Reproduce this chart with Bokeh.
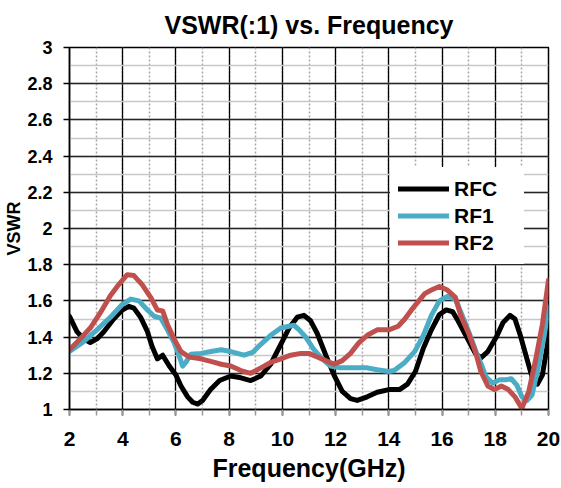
from bokeh.plotting import figure
from bokeh.models import (Legend, LegendItem, SingleIntervalTicker,
                          CustomJSTickFormatter, Range1d)
from bokeh.embed import file_html
from bokeh.resources import INLINE

# ---- data ----
rfc_freq = [2.0, 2.28, 2.53, 2.78, 3.03, 3.29, 3.66, 3.98, 4.23, 4.42, 4.67, 4.93,
            5.1, 5.3, 5.5, 5.75, 6.0, 6.19, 6.44, 6.63, 6.82, 7.0, 7.3, 7.64,
            8.06, 8.44, 8.81, 9.19, 9.56, 9.94, 10.25, 10.56, 10.81, 11.06, 11.31,
            11.63, 11.94, 12.25, 12.56, 12.81, 13.19, 13.56, 14.0, 14.4, 14.7,
            15.0, 15.3, 15.6, 15.9, 16.16, 16.4, 16.6, 17.0, 17.25, 17.46, 17.72,
            18.04, 18.29, 18.55, 18.74, 18.94, 19.19, 19.38, 19.58, 19.77, 19.96, 20.0]
rfc_vswr = [1.515, 1.43, 1.39, 1.37, 1.39, 1.43, 1.50, 1.55, 1.57, 1.56, 1.51, 1.43,
            1.35, 1.28, 1.30, 1.24, 1.19, 1.13, 1.07, 1.04, 1.03, 1.05, 1.11, 1.16,
            1.185, 1.175, 1.16, 1.185, 1.25, 1.36, 1.45, 1.51, 1.52, 1.49, 1.42,
            1.30, 1.19, 1.10, 1.06, 1.05, 1.07, 1.095, 1.11, 1.11, 1.14,
            1.21, 1.34, 1.44, 1.525, 1.55, 1.54, 1.49, 1.38, 1.31, 1.285, 1.32,
            1.40, 1.48, 1.52, 1.50, 1.41, 1.28, 1.18, 1.14, 1.19, 1.36, 1.45]

rf1_freq = [2.0, 2.53, 3.03, 3.54, 3.98, 4.3, 4.61, 4.93, 5.18, 5.43, 5.68, 5.93,
            6.1, 6.25, 6.37, 6.56, 6.94, 7.32, 7.7, 8.06, 8.56, 8.88, 9.19, 9.56,
            9.94, 10.25, 10.44, 10.63, 10.88, 11.19, 11.5, 11.81, 12.19, 12.69,
            13.19, 13.56, 14.0, 14.2, 14.6, 14.97, 15.3, 15.6, 15.9, 16.2, 16.5,
            16.7, 17.0, 17.3, 17.5, 17.65, 17.9, 18.17, 18.42, 18.6, 18.81, 19.0,
            19.19, 19.38, 19.58, 19.83, 20.0]
rf1_vswr = [1.32, 1.375, 1.44, 1.51, 1.58, 1.61, 1.60, 1.55, 1.515, 1.505, 1.44, 1.37,
            1.305, 1.24, 1.26, 1.305, 1.31, 1.32, 1.33, 1.32, 1.30, 1.315, 1.36, 1.41,
            1.45, 1.46, 1.465, 1.44, 1.40, 1.33, 1.28, 1.24, 1.23, 1.23,
            1.23, 1.22, 1.21, 1.215, 1.26, 1.32, 1.41, 1.52, 1.60, 1.625, 1.61,
            1.54, 1.43, 1.31, 1.24, 1.18, 1.145, 1.165, 1.165, 1.17, 1.135, 1.07,
            1.05, 1.08, 1.21, 1.40, 1.565]

rf2_freq = [2.0, 2.4, 2.78, 3.16, 3.54, 3.85, 4.17, 4.42, 4.73, 5.05, 5.3, 5.5,
            5.68, 5.93, 6.19, 6.5, 6.94, 7.45, 7.7, 8.06, 8.44, 8.81, 9.19, 9.56,
            9.94, 10.31, 10.69, 11.0, 11.31, 11.63, 11.94, 12.25, 12.56, 12.88,
            13.19, 13.56, 14.0, 14.35, 14.6, 14.85, 15.35, 15.6, 15.9, 16.2, 16.5,
            16.7, 17.0, 17.25, 17.46, 17.72, 17.97, 18.23, 18.49, 18.74, 19.0,
            19.26, 19.51, 19.77, 20.0]
rf2_vswr = [1.33, 1.39, 1.45, 1.535, 1.63, 1.69, 1.745, 1.74, 1.69, 1.62, 1.55, 1.545,
            1.47, 1.39, 1.32, 1.29, 1.28, 1.26, 1.25, 1.24, 1.215, 1.20, 1.23, 1.26,
            1.28, 1.30, 1.31, 1.31, 1.29, 1.27, 1.25, 1.27, 1.31, 1.37,
            1.41, 1.44, 1.44, 1.46, 1.50, 1.55, 1.64, 1.66, 1.68, 1.66, 1.62,
            1.52, 1.42, 1.32, 1.21, 1.13, 1.11, 1.13, 1.11, 1.07, 1.006,
            1.10, 1.27, 1.47, 1.715]

series_names = ["RFC", "RF1", "RF2"]
series_colors = ["#000000", "#4bacc6", "#c0504d"]

FONT = "Liberation Sans"

p = figure(width=561, height=488, x_range=Range1d(2, 20), y_range=Range1d(1, 3),
           output_backend="svg", toolbar_location=None,
           min_border_left=69, min_border_right=13, min_border_top=45,
           min_border_bottom=79)

p.title.text = "VSWR(:1) vs. Frequency"
p.title.align = "center"
p.title.text_font = FONT
p.title.text_font_size = "25px"
p.title.text_font_style = "bold"
p.title.text_color = "black"
p.title.standoff = 17

xt = SingleIntervalTicker(interval=2, num_minor_ticks=2)
yt = SingleIntervalTicker(interval=0.2, num_minor_ticks=2)
p.xaxis.ticker = xt
p.yaxis.ticker = yt
p.xgrid.ticker = xt
p.ygrid.ticker = yt
p.yaxis.formatter = CustomJSTickFormatter(code="return Number(tick.toFixed(1)).toString();")

p.xaxis.axis_label = "Frequency(GHz)"
p.yaxis.axis_label = "VSWR"
for ax in (p.xaxis, p.yaxis):
    ax.axis_label_text_font = FONT
    ax.axis_label_text_font_style = "bold"
    ax.axis_label_text_color = "black"
    ax.major_label_text_font = FONT
    ax.major_label_text_font_style = "bold"
    ax.major_label_text_color = "black"
    ax.axis_line_color = "black"
    ax.axis_line_width = 1.5
    ax.major_tick_line_color = "black"
    ax.major_tick_line_width = 1.5
    ax.major_tick_in = 0
    ax.major_tick_out = 6
    ax.minor_tick_in = 0

p.xaxis.axis_label_text_font_size = "25px"
p.xaxis.major_label_text_font_size = "21px"
p.xaxis.minor_tick_out = 6
p.xaxis.minor_tick_line_color = "#999999"
p.xaxis.minor_tick_line_width = 1.5
p.xaxis.major_label_standoff = 16
p.xaxis.axis_label_standoff = 5

p.yaxis.axis_label_text_font_size = "18px"
p.yaxis.major_label_text_font_size = "18px"
p.yaxis.minor_tick_out = 0
p.yaxis.major_label_standoff = 11
p.yaxis.axis_label_standoff = 0

p.xgrid.grid_line_color = "black"
p.xgrid.grid_line_width = 1.3
p.xgrid.minor_grid_line_color = "#a6a6a6"
p.xgrid.minor_grid_line_dash = "2 2"
p.xgrid.minor_grid_line_width = 1.5
p.ygrid.grid_line_color = "#262626"
p.ygrid.grid_line_width = 1.3
p.ygrid.minor_grid_line_color = "#c8c8c8"
p.ygrid.minor_grid_line_width = 1.5

p.outline_line_color = "black"
p.outline_line_width = 1.5
p.background_fill_color = "white"
p.border_fill_color = "white"

renderers = []
for fx, fy, c in ((rfc_freq, rfc_vswr, series_colors[0]),
                  (rf1_freq, rf1_vswr, series_colors[1]),
                  (rf2_freq, rf2_vswr, series_colors[2])):
    r = p.line(fx, fy, line_color=c, line_width=5, line_join="round", line_cap="round")
    renderers.append(r)

legend = Legend(items=[LegendItem(label=n, renderers=[r]) for n, r in zip(series_names, renderers)],
                location=(321, 145), orientation="vertical",
                background_fill_color="white", background_fill_alpha=1.0,
                border_line_alpha=0, padding=8, spacing=0, margin=0,
                glyph_width=51, glyph_height=27, label_height=27, label_width=62,
                label_standoff=5, label_text_font=FONT, label_text_font_size="21px",
                label_text_font_style="bold", label_text_color="black")
p.add_layout(legend)

open("out.html", "w").write(file_html(p, INLINE))
